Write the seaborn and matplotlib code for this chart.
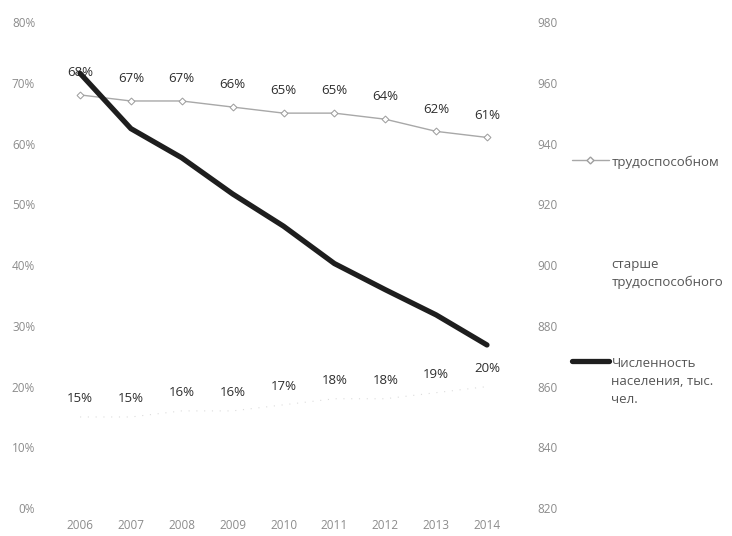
import matplotlib
matplotlib.use("Agg")
import matplotlib.pyplot as plt
import seaborn as sns
import pandas as pd
from matplotlib.lines import Line2D
from matplotlib.ticker import PercentFormatter

# ---------------- DATA ----------------
years = ["2006", "2007", "2008", "2009", "2010", "2011", "2012", "2013", "2014"]
able_share = [68, 67, 67, 66, 65, 65, 64, 62, 61]          # трудоспособном, %
older_share = [15, 15, 16, 16, 17, 18, 18, 19, 20]         # старше трудоспособного, %
population = [963.1, 944.9, 935.3, 923.4, 912.8, 900.5, 891.9, 883.6, 873.7]  # тыс. чел.

label_able = "трудоспособном"
label_older = "старше\nтрудоспособного"
label_pop = "Численность\nнаселения, тыс.\nчел."

df = pd.DataFrame({
    "year": years,
    "able": able_share,
    "older": older_share,
    "pop": population,
})

# ---------------- STYLE ----------------
sns.set_style("white")
plt.rcParams["font.family"] = ["Open Sans", "DejaVu Sans"]

tick_color = "#8c8c8c"
label_color = "#2e2e2e"

fig = plt.figure(figsize=(7.32, 5.36), dpi=100)
ax = fig.add_axes([0.0746, 0.052, 0.6254, 0.907])
ax2 = ax.twinx()

# ---------------- LINES ----------------
sns.lineplot(data=df, x="year", y="able", ax=ax, color="#a8a8a8",
             linewidth=1.0, marker="D", markersize=3.5,
             markerfacecolor="white", markeredgecolor="#a0a0a0", sort=False)
sns.lineplot(data=df, x="year", y="older", ax=ax, color="#dcdcdc",
             linewidth=0.8, linestyle=(0, (1, 6)), sort=False)
sns.lineplot(data=df, x="year", y="pop", ax=ax2, color="#1e1e1e",
             linewidth=3.8, sort=False)

# data labels
for i, v in enumerate(able_share):
    ax.annotate(f"{v}%", (i, v), xytext=(0, 16), textcoords="offset points",
                ha="center", va="center", fontsize=9.5, color=label_color)
for i, v in enumerate(older_share):
    ax.annotate(f"{v}%", (i, v), xytext=(0, 13), textcoords="offset points",
                ha="center", va="center", fontsize=9.5, color=label_color)

# ---------------- AXES ----------------
ax.set_xlim(-0.5, len(years) - 0.5)
ax.set_ylim(0, 80)
ax.set_yticks(range(0, 81, 10))
ax.yaxis.set_major_formatter(PercentFormatter(decimals=0))
ax2.set_ylim(820, 980)
ax2.set_yticks(range(820, 981, 20))

for a in (ax, ax2):
    a.set_xlabel("")
    a.set_ylabel("")
    sns.despine(ax=a, left=True, right=True, top=True, bottom=True)
    a.grid(False)

ax.tick_params(axis="y", length=0, pad=14, labelsize=8.5, labelcolor=tick_color)
ax.tick_params(axis="x", length=0, pad=8, labelsize=8.5, labelcolor=tick_color)
ax2.tick_params(axis="y", length=0, pad=18, labelsize=8.5, labelcolor=tick_color)

# ---------------- LEGEND ----------------
leg_kw = dict(frameon=False, fontsize=9.5, handlelength=2.8, handletextpad=0.2,
              loc="center left", labelcolor="#555555")
entries = [
    (Line2D([], [], color="#a8a8a8", linewidth=1.0, marker="D", markersize=3.5,
            markerfacecolor="white", markeredgecolor="#a0a0a0"), label_able, 0.698),
    (Line2D([], [], color="#ffffff", linewidth=0.8), label_older, 0.49),
    (Line2D([], [], color="#1e1e1e", linewidth=3.8), label_pop, 0.289),
]
for handle, text, ypos in entries:
    leg = fig.legend([handle], [text], bbox_to_anchor=(0.765, ypos), **leg_kw)
    for t in leg.get_texts():
        t.set_linespacing(1.5)
    # put the handle next to the first line of a wrapped label
    for col in leg._legend_handle_box.get_children():
        for item in col.get_children():
            item.align = "top"

fig.savefig("out.png", dpi=100)
